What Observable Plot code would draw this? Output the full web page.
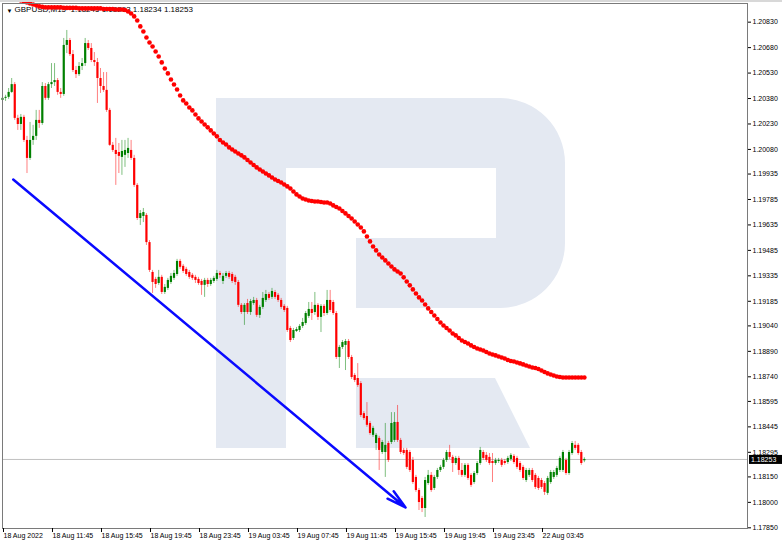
<!DOCTYPE html>
<html>
<head>
<meta charset="utf-8">
<script src="https://cdn.jsdelivr.net/npm/d3@7"></script>
<script src="https://cdn.jsdelivr.net/npm/@observablehq/plot@0.6"></script>
<style>
html, body { margin: 0; padding: 0; background: #fff; }
#chart { position: relative; width: 782px; height: 547px; overflow: hidden; background: #fff; }
#topband { position: absolute; left: 0; top: 0; width: 782px; height: 2px; background: #d8d8d8; }
</style>
</head>
<body>
<div id="chart"><div id="topband"></div></div>
<script>
// ---- Data (GBPUSD, M15) ----
const symbolTitle = "GBPUSD,M15  1.18245 1.18263 1.18234 1.18253";

const open = [1.20369,1.20381,1.20387,1.20416,1.20462,1.20263,1.20227,1.20269,1.20133,1.20027,
1.20133,1.20157,1.20251,1.20233,1.20451,1.20381,1.20462,1.20474,1.20486,1.20416,
1.20404,1.20693,1.20722,1.20639,1.20545,1.20521,1.20569,1.20586,1.20704,1.20675,
1.20604,1.20592,1.20498,1.20451,1.20428,1.20310,1.20104,1.20074,1.20062,1.20033,
1.20045,1.20056,1.20074,1.20027,1.19868,1.19673,1.19685,1.19691,1.19531,1.19355,
1.19314,1.19290,1.19326,1.19237,1.19261,1.19296,1.19320,1.19343,1.19420,1.19391,
1.19373,1.19355,1.19338,1.19326,1.19314,1.19302,1.19279,1.19308,1.19284,1.19302,
1.19314,1.19349,1.19302,1.19332,1.19349,1.19343,1.19326,1.19296,1.19161,1.19119,
1.19172,1.19119,1.19172,1.19190,1.19102,1.19149,1.19190,1.19225,1.19208,1.19237,
1.19220,1.19190,1.19155,1.19143,1.19025,1.18966,1.19007,1.19013,1.19037,1.19054,
1.19096,1.19137,1.19119,1.19161,1.19090,1.19155,1.19113,1.19190,1.19178,1.19113,
1.18854,1.18913,1.18925,1.18948,1.18854,1.18748,1.18730,1.18700,1.18523,1.18506,
1.18465,1.18395,1.18347,1.18377,1.18294,1.18294,1.18347,1.18353,1.18365,1.18471,
1.18365,1.18306,1.18306,1.18294,1.18247,1.18147,1.18070,1.18023,1.17964,1.18111,
1.18159,1.18082,1.18147,1.18188,1.18206,1.18247,1.18294,1.18265,1.18229,1.18259,
1.18188,1.18159,1.18218,1.18159,1.18117,1.18170,1.18229,1.18294,1.18277,1.18265,
1.18241,1.18229,1.18241,1.18247,1.18241,1.18235,1.18253,1.18271,1.18259,1.18229,
1.18206,1.18129,1.18159,1.18188,1.18159,1.18141,1.18129,1.18111,1.18053,1.18117,
1.18147,1.18159,1.18188,1.18188,1.18247,1.18170,1.18288,1.18336,1.18336,1.18294,
1.18245];

const high = [1.20393,1.20399,1.20439,1.20498,1.20474,1.20281,1.20286,1.20281,1.20157,1.20239,
1.20222,1.20310,1.20310,1.20474,1.20468,1.20474,1.20586,1.20586,1.20498,1.20439,
1.20734,1.20781,1.20734,1.20663,1.20569,1.20592,1.20616,1.20734,1.20722,1.20704,
1.20651,1.20616,1.20557,1.20533,1.20533,1.20322,1.20121,1.20145,1.20115,1.20133,
1.20133,1.20145,1.20133,1.20045,1.19879,1.19720,1.19732,1.19702,1.19543,1.19367,
1.19326,1.19367,1.19338,1.19284,1.19320,1.19349,1.19367,1.19432,1.19432,1.19402,
1.19385,1.19367,1.19349,1.19338,1.19326,1.19314,1.19320,1.19320,1.19320,1.19332,
1.19367,1.19361,1.19349,1.19361,1.19361,1.19355,1.19338,1.19308,1.19172,1.19172,
1.19196,1.19196,1.19208,1.19202,1.19161,1.19237,1.19249,1.19237,1.19261,1.19249,
1.19231,1.19202,1.19166,1.19155,1.19037,1.19025,1.19031,1.19048,1.19084,1.19125,
1.19178,1.19178,1.19237,1.19172,1.19166,1.19166,1.19249,1.19249,1.19190,1.19125,
1.18925,1.18954,1.18960,1.18960,1.18866,1.18759,1.18818,1.18712,1.18535,1.18588,
1.18477,1.18448,1.18406,1.18389,1.18365,1.18465,1.18359,1.18529,1.18529,1.18571,
1.18377,1.18318,1.18318,1.18306,1.18265,1.18159,1.18082,1.18035,1.18147,1.18188,
1.18176,1.18159,1.18200,1.18218,1.18259,1.18306,1.18336,1.18277,1.18271,1.18271,
1.18229,1.18229,1.18229,1.18170,1.18182,1.18241,1.18324,1.18306,1.18294,1.18288,
1.18288,1.18259,1.18259,1.18259,1.18253,1.18271,1.18288,1.18282,1.18271,1.18241,
1.18218,1.18200,1.18200,1.18200,1.18170,1.18153,1.18141,1.18123,1.18153,1.18188,
1.18188,1.18212,1.18271,1.18306,1.18259,1.18306,1.18359,1.18359,1.18347,1.18306,
1.18263];

const low = [1.20351,1.20363,1.20375,1.20410,1.20251,1.20192,1.20192,1.20121,1.19938,1.20015,
1.20104,1.20133,1.20204,1.20222,1.20369,1.20369,1.20439,1.20451,1.20399,1.20381,
1.20393,1.20645,1.20628,1.20533,1.20498,1.20510,1.20545,1.20569,1.20663,1.20592,
1.20569,1.20351,1.20410,1.20416,1.20298,1.20098,1.20062,1.19868,1.19938,1.19927,
1.19974,1.20027,1.20015,1.19856,1.19661,1.19632,1.19649,1.19514,1.19355,1.19231,
1.19261,1.19279,1.19225,1.19225,1.19249,1.19284,1.19308,1.19332,1.19373,1.19349,
1.19332,1.19314,1.19308,1.19290,1.19279,1.19220,1.19208,1.19267,1.19273,1.19290,
1.19302,1.19320,1.19284,1.19320,1.19314,1.19290,1.19279,1.19149,1.19107,1.19043,
1.19107,1.19102,1.19161,1.19090,1.19084,1.19137,1.19178,1.19190,1.19196,1.19196,
1.19178,1.19137,1.19119,1.19001,1.18942,1.18954,1.19001,1.19001,1.19025,1.19043,
1.19084,1.19072,1.19102,1.19072,1.19001,1.19096,1.19102,1.19119,1.19102,1.18842,
1.18789,1.18901,1.18777,1.18842,1.18724,1.18706,1.18677,1.18500,1.18483,1.18442,
1.18395,1.18383,1.18306,1.18188,1.18282,1.18147,1.18235,1.18341,1.18353,1.18353,
1.18282,1.18277,1.18194,1.18176,1.18106,1.18059,1.17952,1.17940,1.17911,1.18100,
1.18059,1.18070,1.18135,1.18176,1.18194,1.18235,1.18253,1.18176,1.18218,1.18159,
1.18147,1.18147,1.18129,1.18088,1.18106,1.18159,1.18218,1.18247,1.18235,1.18218,
1.18117,1.18218,1.18229,1.18206,1.18218,1.18224,1.18241,1.18224,1.18194,1.18176,
1.18129,1.18117,1.18147,1.18117,1.18076,1.18070,1.18076,1.18041,1.18041,1.18106,
1.18135,1.18147,1.18176,1.18176,1.18159,1.18159,1.18277,1.18306,1.18277,1.18218,
1.18234];

const close = [1.20381,1.20387,1.20416,1.20462,1.20263,1.20227,1.20269,1.20133,1.20027,1.20133,
1.20157,1.20251,1.20233,1.20451,1.20381,1.20462,1.20474,1.20486,1.20416,1.20404,
1.20693,1.20722,1.20639,1.20545,1.20521,1.20569,1.20586,1.20704,1.20675,1.20604,
1.20592,1.20498,1.20451,1.20428,1.20310,1.20104,1.20074,1.20050,1.20039,1.20068,
1.20074,1.20086,1.20027,1.19868,1.19673,1.19702,1.19708,1.19531,1.19367,1.19296,
1.19284,1.19326,1.19237,1.19267,1.19308,1.19332,1.19349,1.19420,1.19385,1.19361,
1.19343,1.19326,1.19320,1.19308,1.19290,1.19279,1.19308,1.19284,1.19308,1.19320,
1.19349,1.19338,1.19332,1.19349,1.19326,1.19302,1.19296,1.19161,1.19119,1.19161,
1.19119,1.19184,1.19190,1.19102,1.19149,1.19202,1.19225,1.19202,1.19243,1.19208,
1.19190,1.19149,1.19131,1.19013,1.18954,1.19013,1.19019,1.19037,1.19060,1.19113,
1.19137,1.19113,1.19161,1.19090,1.19155,1.19113,1.19190,1.19131,1.19113,1.18854,
1.18913,1.18942,1.18948,1.18854,1.18736,1.18718,1.18689,1.18512,1.18494,1.18454,
1.18406,1.18436,1.18395,1.18306,1.18353,1.18336,1.18247,1.18465,1.18471,1.18365,
1.18294,1.18288,1.18206,1.18188,1.18117,1.18070,1.17999,1.17964,1.18129,1.18159,
1.18070,1.18147,1.18188,1.18206,1.18247,1.18294,1.18265,1.18229,1.18259,1.18188,
1.18159,1.18218,1.18141,1.18100,1.18170,1.18229,1.18306,1.18259,1.18247,1.18229,
1.18229,1.18247,1.18247,1.18218,1.18229,1.18259,1.18277,1.18235,1.18206,1.18188,
1.18141,1.18188,1.18188,1.18129,1.18088,1.18082,1.18088,1.18059,1.18141,1.18176,
1.18176,1.18200,1.18259,1.18294,1.18170,1.18294,1.18347,1.18318,1.18288,1.18229,
1.18253];

// moving average (red dotted line), one value per bar
const movingAverage = [1.20993,1.20987,1.20982,1.20976,1.20970,1.20964,1.20958,1.20952,1.20946,1.20940,
1.20934,1.20929,1.20923,1.20920,1.20917,1.20917,1.20917,1.20917,1.20917,1.20917,
1.20914,1.20914,1.20914,1.20914,1.20914,1.20911,1.20911,1.20911,1.20911,1.20911,
1.20911,1.20911,1.20911,1.20908,1.20908,1.20908,1.20908,1.20905,1.20905,1.20905,
1.20902,1.20893,1.20881,1.20864,1.20840,1.20805,1.20775,1.20740,1.20710,1.20687,
1.20657,1.20628,1.20593,1.20557,1.20528,1.20492,1.20463,1.20433,1.20398,1.20369,
1.20351,1.20327,1.20310,1.20286,1.20263,1.20245,1.20227,1.20210,1.20192,1.20174,
1.20157,1.20136,1.20121,1.20109,1.20092,1.20080,1.20068,1.20056,1.20045,1.20033,
1.20018,1.20003,1.19988,1.19974,1.19962,1.19950,1.19938,1.19927,1.19915,1.19903,
1.19894,1.19885,1.19873,1.19862,1.19850,1.19832,1.19815,1.19803,1.19791,1.19785,
1.19779,1.19776,1.19773,1.19773,1.19770,1.19767,1.19767,1.19761,1.19750,1.19741,
1.19732,1.19717,1.19703,1.19688,1.19673,1.19655,1.19638,1.19620,1.19597,1.19567,
1.19538,1.19508,1.19485,1.19461,1.19443,1.19426,1.19408,1.19390,1.19373,1.19361,
1.19349,1.19326,1.19302,1.19279,1.19255,1.19231,1.19208,1.19190,1.19166,1.19143,
1.19122,1.19101,1.19081,1.19060,1.19042,1.19028,1.19013,1.18995,1.18984,1.18969,
1.18954,1.18945,1.18936,1.18925,1.18916,1.18907,1.18901,1.18895,1.18886,1.18877,
1.18871,1.18866,1.18860,1.18854,1.18848,1.18839,1.18833,1.18830,1.18824,1.18819,
1.18813,1.18807,1.18801,1.18795,1.18792,1.18786,1.18777,1.18768,1.18760,1.18754,
1.18748,1.18742,1.18739,1.18736,1.18736,1.18736,1.18736,1.18736,1.18736,1.18736,
1.18736];

// price axis tick labels (right side)
const priceTicks = [1.20830,1.20680,1.20530,1.20380,1.20230,1.20080,1.19935,1.19785,1.19635,1.19485,
1.19335,1.19185,1.19040,1.18890,1.18740,1.18595,1.18445,1.18295,1.18150,1.18000,1.17850];

// time axis: bar index of each label and its text
const timeTickBars = [0,16,32,48,64,80,96,112,128,144,160,176];
const timeTickLabels = ["18 Aug 2022","18 Aug 11:45","18 Aug 15:45","18 Aug 19:45","18 Aug 23:45",
"19 Aug 03:45","19 Aug 07:45","19 Aug 11:45","19 Aug 15:45","19 Aug 19:45","19 Aug 23:45","22 Aug 03:45"];

// blue trend arrow (bar index, price)
const trendBars = [3.5, 131.6];
const trendPrices = [1.19903, 1.17970];

// visible window (bar index range & price range of the chart)
const barDomain = [0, 243.27];
const priceDomain = [1.17846, 1.20940];

// ---- Build ----
const bars = close.map((c, i) => ({i, open: open[i], high: high[i], low: low[i], close: c, ma: movingAverage[i]}));
const lastPrice = close[close.length - 1];
const candleColor = d => d.close >= d.open ? "#008000" : "#ff0000";
const trend = [{x1: trendBars[0], y1: trendPrices[0], x2: trendBars[1], y2: trendPrices[1]}];

const chart = Plot.plot({
  width: 782,
  height: 547,
  marginTop: 3,
  marginRight: 35,
  marginBottom: 19,
  marginLeft: 2,
  x: {type: "linear", domain: barDomain},
  y: {type: "linear", domain: priceDomain},
  style: {fontFamily: "'Liberation Sans', Arial, sans-serif", fontSize: "7px", background: "transparent", color: "#000", overflow: "visible"},
  marks: [
    Plot.ruleY([lastPrice], {stroke: "#c0c0c0", strokeWidth: 1}),
    Plot.ruleX(bars, {x: "i", y1: "low", y2: "high", stroke: candleColor, strokeOpacity: 0.5, strokeWidth: 1}),
    Plot.ruleX(bars, {x: "i", y1: "open", y2: "close", stroke: candleColor, strokeWidth: 2.2}),
    Plot.text(["▼"], {text: d => d, frameAnchor: "top-left", dx: 4, dy: 5, lineAnchor: "top", fontSize: 6, fill: "#000"}),
    Plot.text([symbolTitle], {text: d => d, frameAnchor: "top-left", dx: 12, dy: 3, lineAnchor: "top", fontSize: 8, fill: "#000"}),
    Plot.dot(bars, {x: "i", y: "ma", r: 2.3, fill: "#ff0000", stroke: "none"}),
    Plot.arrow(trend, {x1: "x1", y1: "y1", x2: "x2", y2: "y2", stroke: "#0a0aff", strokeWidth: 2.5, headLength: 12, headAngle: 28}),
    Plot.frame({stroke: "#7a7a7a"}),
    Plot.axisY(priceTicks, {anchor: "right", tickSize: 3, tickPadding: 2, tickFormat: d => d.toFixed(5), fontSize: 7}),
    Plot.axisX(timeTickBars, {anchor: "bottom", tickSize: 4, tickPadding: 1, tickFormat: d => timeTickLabels[timeTickBars.indexOf(d)], textAnchor: "start", dx: 1, fontSize: 7})
  ]
});

document.getElementById("chart").appendChild(chart);

// watermark logo behind the chart marks (decorative)
const svg = d3.select(chart);
svg.insert("path", "g")
  .attr("d", "M216,98H500A65,65 0 0 1 565,163V243A65,65 0 0 1 500,308H356V238H496V168H286V448H216Z M356,378H495L530,448H356Z")
  .attr("fill", "#e4e9f2");

// current price label on the price axis
const ys = chart.scale("y");
const yPix = v => ys.range[0] + (v - ys.domain[0]) / (ys.domain[1] - ys.domain[0]) * (ys.range[1] - ys.range[0]);
const py = yPix(lastPrice);
const xr = 782 - 35;
const lab = svg.append("g");
lab.append("rect").attr("x", xr + 2).attr("y", py - 4).attr("width", 33).attr("height", 9).attr("fill", "#000");
lab.append("text").attr("x", xr + 4).attr("y", py + 0.5).attr("dy", "0.35em")
  .attr("text-anchor", "start")
  .attr("fill", "#fff").attr("font-size", 7).attr("font-family", "'Liberation Sans', Arial, sans-serif")
  .text(lastPrice.toFixed(5));
</script>
</body>
</html>
